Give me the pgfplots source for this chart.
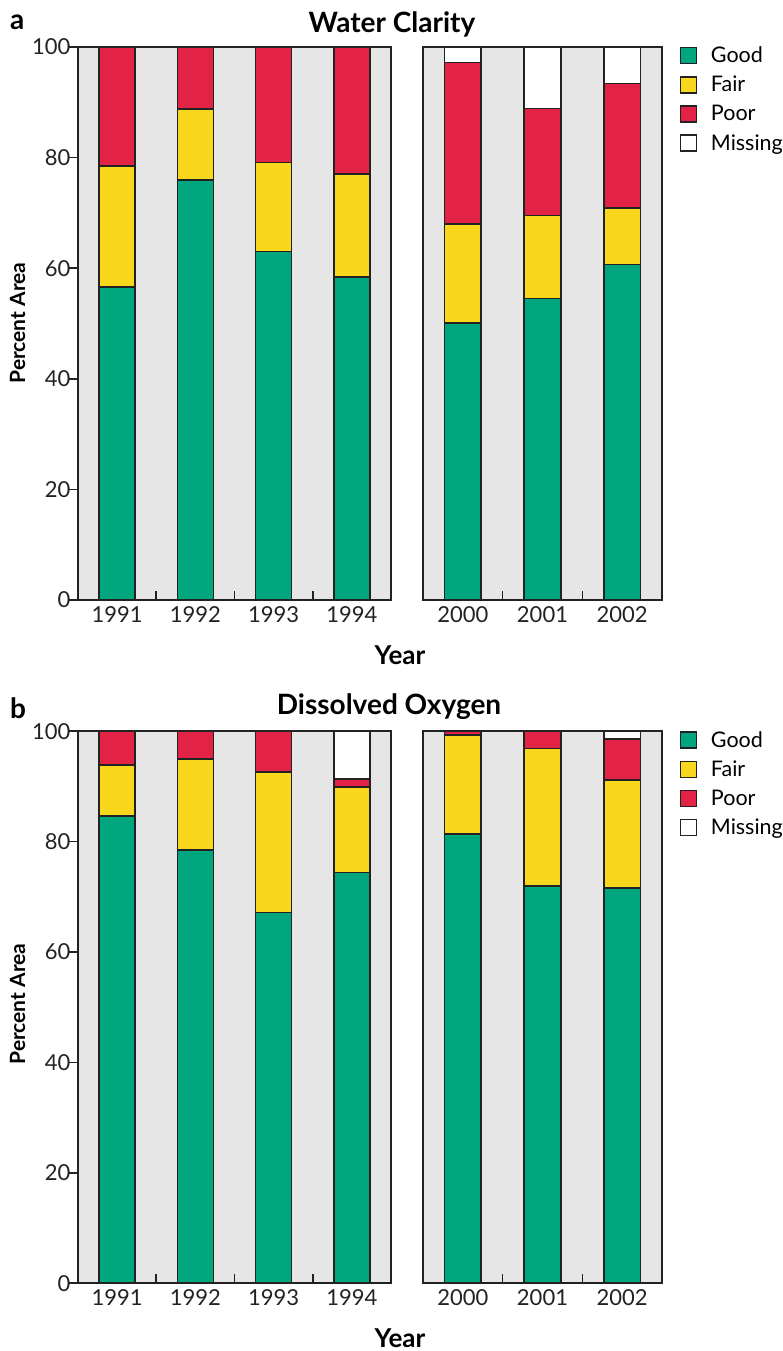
\documentclass[border=0pt]{standalone}
\usepackage{pgfplots}
\pgfplotsset{compat=1.18}
\usepackage{fontspec}
\setmainfont{Lato}
\definecolor{cgood}{HTML}{00A77E}
\definecolor{cfair}{HTML}{F9D71C}
\definecolor{cpoor}{HTML}{E32345}
\definecolor{cbg}{HTML}{E6E6E6}
\definecolor{cline}{HTML}{222222}
\pgfplotsset{
  base/.style={
    scale only axis,
    ymin=0, ymax=100,
    ybar stacked, bar width=0.46,
    axis background/.style={fill=cbg},
    axis line style={line width=2pt, cline},
    every tick/.style={line width=1.6pt, cline},
    /pgf/number format/assume math mode=true,
    tick label style={font=\fontsize{22}{26}\selectfont, text=cline},
    tick align=inside,
    xtick pos=bottom, ytick pos=left,
    major tick length=9pt, minor tick length=9pt,
    major x tick style={draw=none},
    xticklabel style={yshift=-3pt},
    every axis plot/.append style={draw=cline, line width=1.6pt},
  },
  lg/.style={legend image code/.code={\draw[##1,line width=1.3pt] (0pt,-8pt) rectangle (16pt,8pt);}},
  leftax/.style={base, width=313pt, xmin=-0.5, xmax=3.5,
    xtick={0,1,2,3}, xticklabels={1991,1992,1993,1994},
    minor xtick={0.5,1.5,2.5},
    ytick={0,20,40,60,80,100},
    major y tick style={xshift=-9pt},
    yticklabel style={xshift=-4pt}},
  rightax/.style={base, width=239pt, xmin=-0.5, xmax=2.5,
    xtick={0,1,2}, xticklabels={2000,2001,2002},
    minor xtick={0.5,1.5}, ytick=\empty,
    legend style={at={(1.073,1.004)}, anchor=north west, draw=none, fill=none,
      font=\fontsize{21.5}{25}\selectfont, row sep=8pt, inner sep=0pt,
      /tikz/every odd column/.append style={column sep=12pt}},
    legend cell align=left},
}
\begin{document}
\begin{tikzpicture}
\useasboundingbox (0pt,0pt) rectangle (783pt,1351pt);
% ---------------- Panel a ----------------
\begin{axis}[leftax, height=553pt, at={(78pt,751pt)}, anchor=south west]
\addplot[fill=cgood] coordinates {(0,56.6) (1,76.0) (2,63.0) (3,58.4)};
\addplot[fill=cfair] coordinates {(0,21.9) (1,12.8) (2,16.1) (3,18.6)};
\addplot[fill=cpoor] coordinates {(0,21.5) (1,11.2) (2,20.9) (3,23.0)};
\end{axis}
\begin{axis}[rightax, height=553pt, at={(423pt,751pt)}, anchor=south west]
\addplot[fill=cgood, lg] coordinates {(0,50.1) (1,54.5) (2,60.7)};
\addplot[fill=cfair, lg] coordinates {(0,17.9) (1,15.0) (2,10.2)};
\addplot[fill=cpoor, lg] coordinates {(0,29.2) (1,19.4) (2,22.5)};
\addplot[fill=white, lg] coordinates {(0,2.8) (1,11.1) (2,6.6)};
\legend{Good,Fair,Poor,Missing}
\end{axis}
\node[font=\fontsize{28}{32}\selectfont\bfseries, anchor=base] at (392pt,1318pt) {Water Clarity};
\node[font=\fontsize{28}{32}\selectfont\bfseries, anchor=base west, inner sep=0pt] at (10pt,1321pt) {a};
\node[font=\fontsize{21}{25}\selectfont\bfseries, rotate=90, anchor=base] at (25pt,1028pt) {Percent Area};
\node[font=\fontsize{26}{30}\selectfont\bfseries, anchor=base] at (400pt,686pt) {Year};
% ---------------- Panel b ----------------
\begin{axis}[leftax, height=552pt, at={(78pt,67.7pt)}, anchor=south west]
\addplot[fill=cgood] coordinates {(0,84.7) (1,78.5) (2,67.2) (3,74.4)};
\addplot[fill=cfair] coordinates {(0,9.2) (1,16.5) (2,25.4) (3,15.5)};
\addplot[fill=cpoor] coordinates {(0,6.1) (1,5.0) (2,7.4) (3,1.5)};
\addplot[fill=white] coordinates {(0,0) (1,0) (2,0) (3,8.6)};
\end{axis}
\begin{axis}[rightax, height=552pt, at={(423pt,67.7pt)}, anchor=south west]
\addplot[fill=cgood, lg] coordinates {(0,81.4) (1,72.0) (2,71.6)};
\addplot[fill=cfair, lg] coordinates {(0,17.9) (1,24.9) (2,19.6)};
\addplot[fill=cpoor, lg] coordinates {(0,0.7) (1,3.1) (2,7.4)};
\addplot[fill=white, lg] coordinates {(0,0) (1,0) (2,1.4)};
\legend{Good,Fair,Poor,Missing}
\end{axis}
\node[font=\fontsize{28}{32}\selectfont\bfseries, anchor=base] at (389pt,636pt) {Dissolved Oxygen};
\node[font=\fontsize{28}{32}\selectfont\bfseries, anchor=base west, inner sep=0pt] at (10pt,632pt) {b};
\node[font=\fontsize{21}{25}\selectfont\bfseries, rotate=90, anchor=base] at (25pt,347pt) {Percent Area};
\node[font=\fontsize{26}{30}\selectfont\bfseries, anchor=base] at (400pt,4pt) {Year};
\end{tikzpicture}
\end{document}
